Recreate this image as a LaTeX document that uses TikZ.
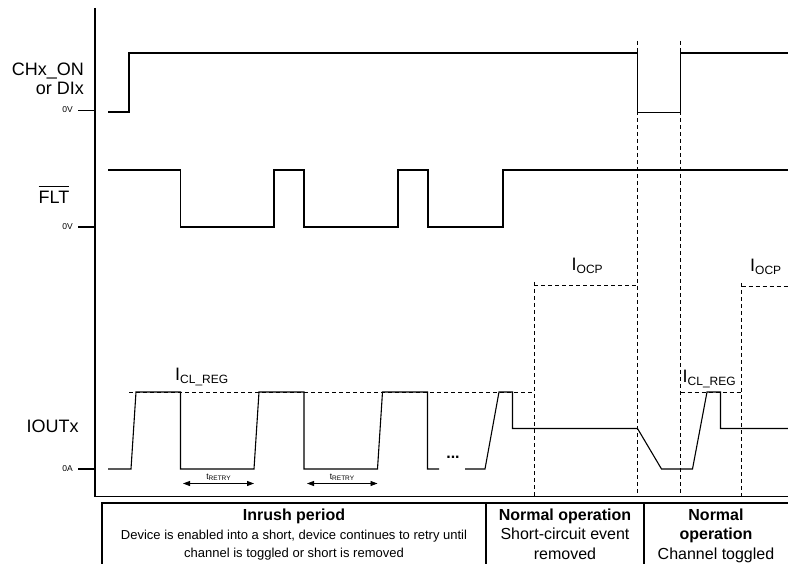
\documentclass[tikz,border=0pt]{standalone}
\usepackage{fontspec}
\setmainfont{Liberation Sans}
\usetikzlibrary{arrows.meta}

\tikzset{
  wave/.style={line width=1.1pt, line join=miter},
  guide/.style={line width=0.8pt, dash pattern={on 4pt off 3pt}},
  axisline/.style={line width=1.6pt},
  tablerule/.style={line width=2pt},
  sig/.style={font=\fontsize{18}{20}\selectfont, inner sep=0pt},
  lvl/.style={font=\fontsize{8.5}{9}\selectfont, inner sep=0pt, anchor=east},
  head/.style={font=\bfseries\fontsize{16}{18}\selectfont, inner sep=0pt, anchor=base},
  body/.style={font=\fontsize{16}{18}\selectfont, inner sep=0pt, anchor=base},
  desc/.style={font=\fontsize{13}{15}\selectfont, inner sep=0pt, anchor=base},
  retry/.style={line width=0.9pt, {Triangle[length=7pt,width=5pt]}-{Triangle[length=7pt,width=5pt]}},
}
\newcommand{\ilevel}[1]{{\fontsize{18}{20}\selectfont I}\raisebox{-3pt}{\fontsize{12}{13}\selectfont #1}}
\newcommand{\tretry}{{\fontsize{8.5}{9}\selectfont t}\raisebox{-1pt}{\fontsize{6.5}{7}\selectfont RETRY}}
\newsavebox\barbox
\newcommand{\barred}[1]{\sbox\barbox{#1}\rlap{\rule[16.5pt]{\wd\barbox}{1pt}}\usebox\barbox}

\begin{document}
\begin{tikzpicture}[x=1pt,y=1pt,yscale=-1,xscale=1]
\useasboundingbox (0,0) rectangle (788,564);

%Dashed guides
\draw [guide] (637.5,41) -- (637.5,496) ;
\draw [guide] (680.5,41) -- (680.5,496) ;
\draw [guide] (534,282) -- (534,496) ;
\draw [guide] (741.7,283) -- (741.7,496) ;
\draw [guide] (129,392) -- (534,392) ;
\draw [guide] (680.5,392) -- (741.7,392) ;
\draw [guide] (534,285) -- (637.5,285) ;
\draw [guide] (741.7,286) -- (788,286) ;

%Axes
\draw [axisline] (95,8) -- (95,496.5) -- (790,496.5) ;
\draw [axisline] (78,110.5) -- (95,110.5) ;
\draw [axisline] (78,227) -- (95,227) ;
\draw [axisline] (78,469) -- (95,469) ;

%Waveform CHx_ON
\draw [wave] (108,112) -- (129,112) -- (129,53) -- (637.5,53) -- (637.5,112.5) -- (680.5,112.5) -- (680.5,53) -- (788,53) ;
%Waveform FLT
\draw [wave] (108,170) -- (180.5,170) -- (180.5,227) -- (274,227) -- (274,170) -- (304,170) -- (304,227) -- (398,227) -- (398,170) -- (428,170) -- (428,227) -- (503,227) -- (503,170) -- (788,170) ;
%Waveform IOUTx
\draw [wave] (108,469) -- (131,469) -- (136,392) -- (180.5,392) -- (180.5,469) -- (254,469) -- (259,392) -- (304,392) -- (304,469) -- (377.5,469) -- (382.5,392) -- (427.5,392) -- (427.5,469) -- (439,469) ;
\draw [wave] (465,469) -- (485,469) -- (499,392) -- (512.5,392) -- (512.5,428.5) -- (637.5,428.5) -- (661.5,469) -- (692.5,469) -- (707,392) -- (720.5,392) -- (720.5,428.5) -- (788,428.5) ;

%Retry arrows
\coordinate (retryAl) at (183,483.5) ;
\coordinate (retryAr) at (254,483.5) ;
\coordinate (retryBl) at (307,483.5) ;
\coordinate (retryBr) at (377.5,483.5) ;
\draw [retry] (retryAl) -- (retryAr) ;
\draw [retry] (retryBl) -- (retryBr) ;

%Table
\draw [tablerule] (102,503) -- (792,503) ;
\draw [tablerule] (102,502) -- (102,568) ;
\draw [tablerule] (486,503) -- (486,568) ;
\draw [tablerule] (644,503) -- (644,568) ;

% Text Node
\node [sig, anchor=base east] (chlabel) at (84,76) {CHx\_ON};
\node [sig, anchor=base east] (dilabel) at (84,94.5) {or DIx};
\node [sig, anchor=base] (fltlabel) at (54,204) {\barred{FLT}};
\node [sig, anchor=base] (ioutlabel) at (52.5,432) {IOUTx};
\node [lvl] (chzero) at (73,110) {0V};
\node [lvl] (fltzero) at (73,227) {0V};
\node [lvl] (ioutzero) at (73,469) {0A};
% Text Node
\node [anchor=base west, inner sep=0pt] (ocpA) at (571.5,271) {\ilevel{OCP}};
\node [anchor=base west, inner sep=0pt] (ocpB) at (750,271.5) {\ilevel{OCP}};
\node [anchor=base west, inner sep=0pt] (clregA) at (175,381) {\ilevel{CL\_REG}};
\node [anchor=base west, inner sep=0pt] (clregB) at (682.5,382) {\ilevel{CL\_REG}};
\node [inner sep=0pt] (retryA) at (218.5,477.5) {\tretry};
\node [inner sep=0pt] (retryB) at (342,477.5) {\tretry};
\node [inner sep=0pt, font=\bfseries\fontsize{16}{16}\selectfont] (dots) at (453,457) {...};
% Text Node
\node [head] (inrushhead) at (294,520.5) {Inrush period};
\node [desc] (inrushA) at (294,539) {Device is enabled into a short, device continues to retry until};
\node [desc] (inrushB) at (294,557.5) {channel is toggled or short is removed};
\node [head] (shorthead) at (565,520.5) {Normal operation};
\node [body] (shortA) at (565,539.3) {Short-circuit event};
\node [body] (shortB) at (565,559) {removed};
\node [head] (togglehead) at (716,520.5) {Normal};
\node [head] (toggleA) at (716,539.3) {operation};
\node [body] (toggleB) at (716,559) {Channel toggled};

\end{tikzpicture}
\end{document}
